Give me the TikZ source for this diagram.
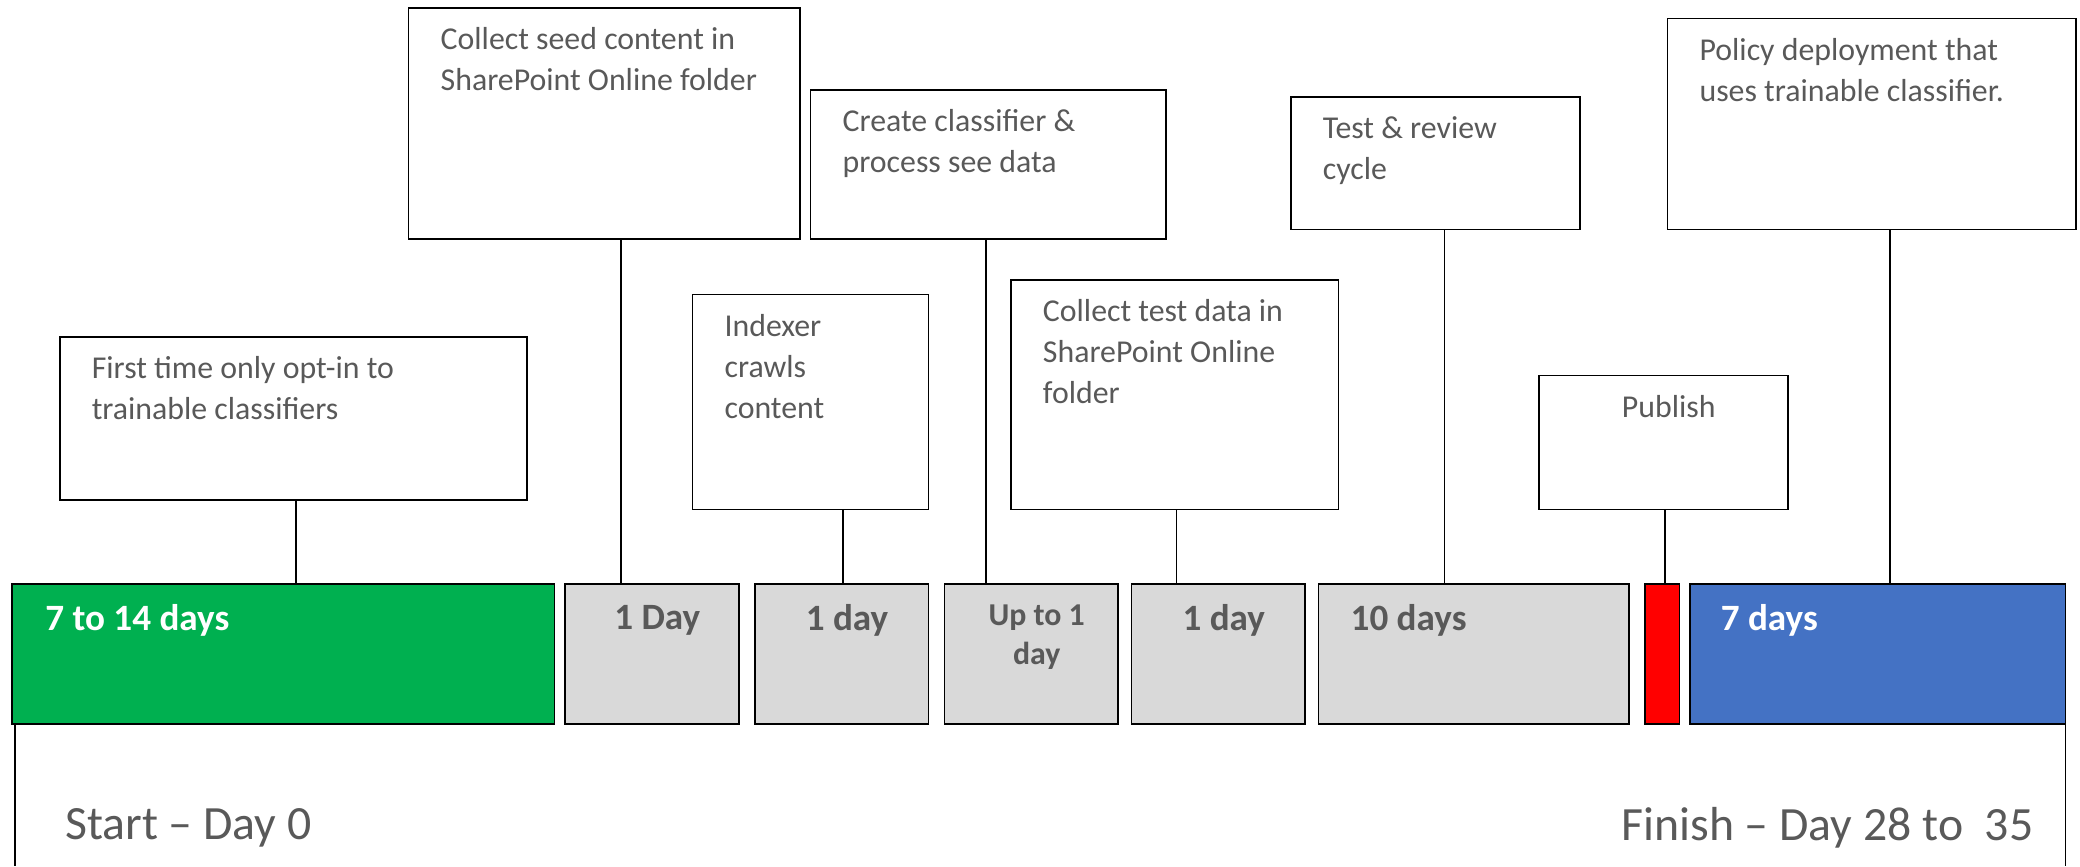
\documentclass[tikz,border=0pt]{standalone}
\usepackage{fontspec}
\setmainfont{Carlito}
\usetikzlibrary{positioning}

\definecolor{stepgreen}{HTML}{00B050}
\definecolor{stepgray}{HTML}{D9D9D9}
\definecolor{stepred}{HTML}{FF0000}
\definecolor{stepblue}{HTML}{4472C4}
\definecolor{txtgray}{HTML}{595959}

\begin{document}
\begin{tikzpicture}[
        x=1pt, y=-1pt,
        note/.style={draw, line width=1.3pt, anchor=north west, inner sep=0pt, outer sep=0pt},
        notetext/.style={anchor=north west, align=left, inner xsep=24pt, inner ysep=14.5pt,
            text=txtgray, font=\fontsize{24}{31}\selectfont},
        phase/.style={draw, line width=1.3pt, anchor=north west, inner sep=0pt, outer sep=0pt, minimum height=106},
        phaselabel/.style={inner sep=0pt, text=txtgray, font=\bfseries\fontsize{28}{34}\selectfont},
        link/.style={line width=1.3pt},
        edgetext/.style={inner sep=0pt, text=txtgray, font=\fontsize{36}{43}\selectfont}
    ]
    \useasboundingbox (0,0) rectangle (1568,653);

    % timeline bars
    \node[phase, fill=stepgreen, minimum width=409] (optinbar) at (9,440) {};
    \node[phase, fill=stepgray, minimum width=131, right=8pt of optinbar] (seedbar) {};
    \node[phase, fill=stepgray, minimum width=131, right=12pt of seedbar] (crawlbar) {};
    \node[phase, fill=stepgray, minimum width=131, right=12pt of crawlbar] (createbar) {};
    \node[phase, fill=stepgray, minimum width=131, right=10pt of createbar] (testbar) {};
    \node[phase, fill=stepgray, minimum width=234, right=10pt of testbar] (reviewbar) {};
    \node[phase, fill=stepred, minimum width=26, right=12pt of reviewbar] (publishbar) {};
    \node[phase, fill=stepblue, minimum width=283, right=8pt of publishbar] (policybar) {};

    \node[phaselabel, text=white, anchor=west] (optinlbl) at ([xshift=25pt, yshift=-28pt]optinbar.north west) {7 to 14 days};
    \node[phaselabel] (seedlbl) at ([xshift=4pt, yshift=-28pt]seedbar.north) {1 Day};
    \node[phaselabel] (crawllbl) at ([xshift=4pt, yshift=-28pt]crawlbar.north) {1 day};
    \node[phaselabel, font=\bfseries\fontsize{24}{29}\selectfont, align=center, anchor=north]
        (createlbl) at ([xshift=4pt, yshift=-16pt]createbar.north) {Up to 1\\day};
    \node[phaselabel] (testlbl) at ([xshift=4pt, yshift=-28pt]testbar.north) {1 day};
    \node[phaselabel, anchor=west] (reviewlbl) at ([xshift=24pt, yshift=-28pt]reviewbar.north west) {10 days};
    \node[phaselabel, text=white, anchor=west] (policylbl) at ([xshift=23pt, yshift=-28pt]policybar.north west) {7 days};

    % call-out boxes
    \node[note, minimum width=352, minimum height=123] (optin) at (45,254) {};
    \node[notetext] (optintxt) at (optin.north west) {First time only opt-in to\\trainable classifiers};
    \node[note, minimum width=295, minimum height=174] (seed) at (308,6) {};
    \node[notetext] (seedtxt) at (seed.north west) {Collect seed content in\\SharePoint Online folder};
    \node[note, minimum width=268, minimum height=112] (create) at (611,68) {};
    \node[notetext] (createtxt) at (create.north west) {Create classifier \&\\process see data};
    \node[note, minimum width=178, minimum height=162] (crawl) at (522,222) {};
    \node[notetext] (crawltxt) at (crawl.north west) {Indexer\\crawls\\content};
    \node[note, minimum width=247, minimum height=173] (testdata) at (762,211) {};
    \node[notetext] (testdatatxt) at (testdata.north west) {Collect test data in\\SharePoint Online\\folder};
    \node[note, minimum width=218, minimum height=100] (review) at (973,73) {};
    \node[notetext] (reviewtxt) at (review.north west) {Test \& review\\cycle};
    \node[note, minimum width=188, minimum height=101] (publish) at (1160,283) {};
    \node[notetext, anchor=north, inner xsep=0pt] (publishtxt) at ([xshift=4pt]publish.north) {Publish};
    \node[note, minimum width=308, minimum height=159] (policy) at (1257,14) {};
    \node[notetext] (policytxt) at (policy.north west) {Policy deployment that\\uses trainable classifier.};

    % drop lines onto the bars
    \draw[link] ([xshift=2pt]optin.south) -- ([xshift=2pt]optin.south |- optinbar.north);
    \draw[link] ([xshift=12.6pt]seed.south) -- ([xshift=12.6pt]seed.south |- seedbar.north);
    \draw[link] ([xshift=24.6pt]crawl.south) -- ([xshift=24.6pt]crawl.south |- crawlbar.north);
    \draw[link] ([xshift=-1.7pt]create.south) -- ([xshift=-1.7pt]create.south |- createbar.north);
    \draw[link] ([xshift=1.3pt]testdata.south) -- ([xshift=1.3pt]testdata.south |- testbar.north);
    \draw[link] ([xshift=7pt]review.south) -- ([xshift=7pt]review.south |- reviewbar.north);
    \draw[link] ([xshift=1.4pt]publish.south) -- ([xshift=1.4pt]publish.south |- publishbar.north);
    \draw[link] ([xshift=14pt]policy.south) -- ([xshift=14pt]policy.south |- policybar.north);

    % start and finish markers
    \coordinate (floor) at (0,653);
    \draw[line width=1pt] ([xshift=2.4pt]optinbar.south west) -- ([xshift=2.4pt]optinbar.south west |- floor);
    \draw[line width=1pt] (policybar.south east) -- (policybar.south east |- floor);
    \node[edgetext, anchor=west] (start) at (49,624) {Start – Day 0};
    \node[edgetext, anchor=east] (finish) at (1533,624) {Finish – Day 28 to \ 35};
\end{tikzpicture}
\end{document}
